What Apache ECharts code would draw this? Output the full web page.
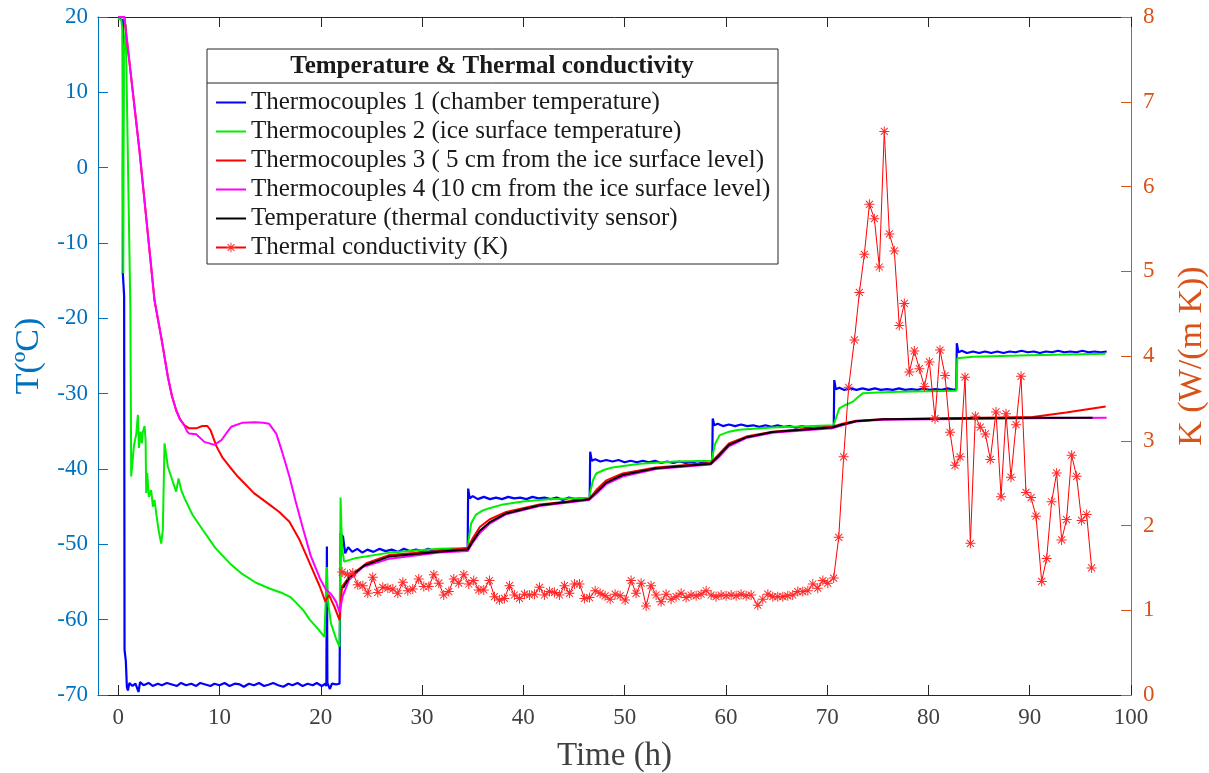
<!DOCTYPE html>
<html>
<head>
<meta charset="utf-8">
<script src="https://cdn.jsdelivr.net/npm/echarts@6.0.0/dist/echarts.min.js"></script>
<style>
  html, body { margin: 0; padding: 0; background: #fff; }
  #chart { width: 1209px; height: 773px; }
</style>
</head>
<body>
<div id="chart"></div>
<script>
// x ticks (h)
var xTicks = [0, 10, 20, 30, 40, 50, 60, 70, 80, 90, 100];

// Thermocouples 1 (chamber) [h, degC]
var tc1 = [
  [0,19.8],[0.45,19.6],[0.5,12],[0.45,-0.3],[0.45,-14],[0.58,-17],[0.6,-40],[0.62,-64],[0.75,-65.5],[0.85,-68.9],[0.95,-69.4],
  [1.1,-68.4],[1.4,-68.8],[1.7,-68.5],[2.0,-69.6],[2.15,-68.3],[2.5,-68.7],[3.0,-68.4],[3.4,-68.8],[3.9,-68.5],[4.3,-68.7],
  [4.8,-68.4],[5.3,-68.6],[5.8,-68.8],[6.2,-68.4],[6.7,-68.7],[7.2,-68.5],[7.7,-68.8],[8.1,-68.4],[8.6,-68.6],[9.1,-68.8],
  [9.5,-68.5],[10.0,-68.7],[10.5,-68.4],[11.0,-68.8],[11.5,-68.5],[12.0,-68.6],[12.4,-68.9],[12.9,-68.5],[13.4,-68.7],
  [13.9,-68.4],[14.4,-68.8],[14.9,-68.6],[15.3,-68.4],[15.8,-68.7],[16.3,-68.9],[16.8,-68.5],[17.2,-68.7],[17.7,-68.4],
  [18.2,-68.8],[18.7,-68.5],[19.2,-68.7],[19.6,-68.4],[20.1,-68.8],[20.45,-68.5],
  [20.55,-68.8],[20.6,-50.3],[20.65,-68.4],[20.9,-69.2],[21.1,-68.5],[21.5,-68.6],[21.85,-68.5],
  [21.95,-48.5],[22.2,-49.0],[22.4,-51.2],[22.7,-50.4],[23.1,-51.0],[23.6,-50.6],[24.1,-51.1],[24.6,-50.7],[25.2,-51.0],
  [25.8,-50.6],[26.4,-50.9],[27.0,-50.7],[27.6,-51.0],[28.2,-50.6],[28.8,-50.9],[29.4,-50.7],[30.0,-50.9],[30.6,-50.6],
  [31.2,-50.9],[31.8,-50.7],[32.4,-50.9],[33.0,-50.6],[33.6,-50.9],[34.2,-50.7],[34.5,-50.8],
  [34.55,-42.6],[34.7,-43.9],[35.0,-43.6],[35.5,-44.0],[36.1,-43.7],[36.7,-44.0],[37.3,-43.8],[37.9,-44.0],[38.5,-43.7],
  [39.1,-43.9],[39.7,-43.8],[40.3,-44.0],[40.9,-43.7],[41.5,-43.9],[42.1,-43.8],[42.7,-44.0],[43.3,-43.8],[43.9,-44.1],
  [44.5,-43.8],[45.1,-44.0],[45.7,-43.9],[46.3,-44.1],[46.55,-44.0],
  [46.6,-37.7],[46.75,-38.9],[47.1,-38.7],[47.6,-39.0],[48.2,-38.8],[48.8,-39.0],[49.4,-38.8],[50.0,-39.1],[50.6,-38.9],
  [51.2,-39.1],[51.8,-38.9],[52.4,-39.1],[53.0,-38.9],[53.6,-39.2],[54.2,-39.0],[54.8,-39.2],[55.4,-39.0],[56.0,-39.2],
  [56.6,-39.1],[57.2,-39.3],[57.8,-39.1],[58.4,-39.3],[58.65,-39.2],
  [58.7,-33.3],[58.85,-34.2],[59.2,-34.0],[59.7,-34.3],[60.3,-34.1],[60.9,-34.3],[61.5,-34.1],[62.1,-34.3],[62.7,-34.2],
  [63.3,-34.4],[63.9,-34.2],[64.5,-34.4],[65.1,-34.2],[65.7,-34.4],[66.3,-34.3],[66.9,-34.5],[67.5,-34.3],[68.1,-34.5],
  [68.7,-34.3],[69.3,-34.5],[69.9,-34.4],[70.4,-34.6],[70.65,-34.5],
  [70.7,-28.2],[70.85,-29.4],[71.2,-29.2],[71.7,-29.5],[72.3,-29.3],[72.9,-29.5],[73.5,-29.3],[74.1,-29.5],[74.7,-29.3],
  [75.3,-29.5],[75.9,-29.4],[76.5,-29.5],[77.1,-29.3],[77.7,-29.5],[78.3,-29.4],[78.9,-29.5],[79.5,-29.3],[80.1,-29.5],
  [80.7,-29.4],[81.3,-29.5],[81.9,-29.3],[82.5,-29.5],[82.75,-29.4],
  [82.8,-23.3],[82.95,-24.5],[83.3,-24.3],[83.8,-24.6],[84.4,-24.4],[85.0,-24.6],[85.6,-24.4],[86.2,-24.6],[86.8,-24.4],
  [87.4,-24.6],[88.0,-24.4],[88.6,-24.5],[89.2,-24.3],[89.8,-24.5],[90.4,-24.4],[91.0,-24.6],[91.6,-24.4],[92.2,-24.5],
  [92.8,-24.3],[93.4,-24.5],[94.0,-24.4],[94.6,-24.5],[95.2,-24.3],[95.8,-24.5],[96.4,-24.4],[97.0,-24.5],[97.6,-24.4]
];

// Thermocouples 2 (ice surface)
var tc2 = [
  [0,19.8],[0.3,19.6],[0.4,18.5],[0.45,-0.3],[0.5,-14],[0.55,15],[0.75,19.0],[0.79,14.3],[1.2,-18.9],[1.28,-41.0],
  [1.54,-37.0],[1.78,-35.3],[1.94,-32.8],[2.04,-37.2],[2.2,-35.05],[2.33,-36.6],[2.43,-35.05],[2.6,-34.3],[2.7,-36.2],
  [2.76,-43.2],[2.86,-40.5],[3.02,-43.7],[3.25,-42.8],[3.42,-45.0],[3.58,-44.1],[3.75,-45.9],[3.98,-48.1],[4.24,-49.9],
  [4.4,-48.1],[4.57,-36.6],[4.9,-39.7],[5.39,-41.7],[5.72,-43.0],[5.95,-41.25],[6.22,-42.8],[6.55,-43.9],[7.3,-46.0],
  [8.35,-48.1],[9.6,-50.5],[11.0,-52.5],[12.2,-53.9],[13.6,-55.1],[15.0,-55.9],[16.25,-56.5],[17.0,-57.0],[17.6,-57.8],
  [18.3,-58.8],[18.9,-60.0],[19.7,-61.2],[20.36,-62.3],[20.55,-62.5],[20.6,-53.0],[20.7,-57.5],[21.0,-60.5],[21.5,-62.5],
  [21.85,-63.6],[21.95,-43.8],[22.1,-50.5],[22.3,-52.3],[23.5,-51.8],[26.8,-51.1],[31.7,-50.6],[34.5,-50.5],
  [34.6,-49.4],[34.85,-47.2],[35.3,-46.1],[36.0,-45.5],[36.65,-45.2],[38.0,-44.7],[39.95,-44.3],[42.5,-44.0],[46.5,-43.8],
  [46.65,-42.8],[46.9,-41.4],[47.2,-40.6],[48.0,-40.1],[48.8,-39.8],[51.5,-39.3],[55.0,-39.0],[58.6,-38.9],
  [58.75,-37.8],[58.95,-36.6],[59.4,-35.5],[60.2,-35.1],[61.3,-34.8],[64.6,-34.5],[70.6,-34.2],
  [70.75,-33.7],[71.2,-31.95],[71.8,-31.5],[72.5,-31.1],[73.0,-30.5],[73.5,-29.96],[75.0,-29.85],[77.1,-29.74],[82.75,-29.6],
  [82.85,-25.3],[84.4,-25.1],[90.0,-24.9],[97.5,-24.7]
];

// Thermocouples 3 (5 cm)
var tc3 = [
  [0,20],[0.6,20],[2.1,2.2],[3.58,-17.6],[4.24,-22.5],[4.9,-27.75],[5.3,-30.3],[5.72,-32.2],[6.1,-33.4],[6.55,-34.2],
  [7.0,-34.6],[7.7,-34.6],[8.3,-34.3],[8.8,-34.3],[9.1,-34.8],[9.7,-37.0],[10.3,-38.5],[11.0,-39.7],[11.8,-41.0],
  [12.6,-42.1],[13.4,-43.2],[14.3,-44.1],[15.1,-44.9],[15.9,-45.7],[16.9,-47.0],[17.9,-49.4],[18.9,-52.5],[19.9,-55.6],
  [20.45,-57.6],[20.8,-56.7],[21.35,-58.3],[21.85,-60.05],[22.1,-55.6],[22.8,-54.3],[24.5,-52.5],[26.8,-51.4],[31.7,-50.9],
  [34.5,-50.5],[35.0,-49.2],[35.7,-47.7],[36.65,-46.7],[38.3,-45.7],[41.6,-44.7],[46.5,-44.0],[47.2,-42.8],[48.2,-41.5],
  [49.8,-40.6],[53.1,-39.8],[58.5,-39.2],[59.4,-37.9],[60.3,-36.6],[62.0,-35.7],[64.6,-35.05],[70.5,-34.4],[71.5,-34.0],
  [72.85,-33.6],[75.5,-33.4],[85.0,-33.2],[90.3,-33.1],[93.6,-32.5],[97.5,-31.7]
];

// Thermocouples 4 (10 cm)
var tc4 = [
  [0,20],[0.6,20],[2.1,2.2],[3.58,-17.6],[4.24,-22.5],[4.9,-27.75],[5.3,-30.3],[5.72,-32.2],[6.1,-33.4],[6.55,-34.3],
  [6.8,-35.0],[7.0,-35.3],[7.7,-35.4],[8.5,-36.4],[9.5,-36.8],[10.2,-36.15],[10.7,-35.2],[11.15,-34.4],[12.3,-33.85],
  [13.5,-33.8],[14.3,-33.85],[14.9,-34.0],[15.6,-35.3],[16.2,-37.8],[16.9,-41.0],[17.5,-44.2],[18.2,-47.7],[19.0,-51.5],
  [19.9,-54.5],[20.5,-56.0],[21.0,-56.6],[21.5,-57.6],[21.85,-59.0],[22.15,-56.95],[22.8,-54.7],[24.15,-53.0],[26.8,-51.9],
  [31.7,-51.1],[34.5,-50.9],[35.0,-49.8],[35.7,-48.5],[36.65,-47.3],[38.3,-46.0],[41.6,-44.9],[46.5,-44.1],[47.2,-43.3],
  [48.2,-42.0],[49.8,-41.0],[53.1,-40.0],[58.5,-39.4],[59.4,-38.3],[60.3,-37.0],[62.0,-35.9],[64.6,-35.2],[70.5,-34.6],
  [71.5,-34.2],[72.85,-33.7],[75.5,-33.45],[90.3,-33.25],[97.6,-33.2]
];

// Temperature (thermal conductivity sensor)
var tSensor = [
  [22.2,-55.8],[22.8,-54.4],[24.3,-52.8],[26.8,-51.6],[31.7,-51.0],[34.5,-50.7],[35.0,-49.6],[35.7,-48.2],[36.65,-47.1],
  [38.3,-45.9],[41.6,-44.8],[46.5,-44.0],[47.2,-43.1],[48.2,-41.8],[49.8,-40.8],[53.1,-39.9],[58.5,-39.3],[59.4,-38.1],
  [60.3,-36.8],[62.0,-35.8],[64.6,-35.1],[70.5,-34.5],[71.5,-34.1],[72.85,-33.65],[75.5,-33.4],[90.3,-33.2],[96.2,-33.2]
];

// Thermal conductivity K, W/(m K)
var kHours = [
  22.11,22.64,23.16,23.65,24.15,24.64,25.13,25.63,26.12,26.62,27.11,27.60,28.10,28.59,29.08,29.67,30.17,30.66,31.16,31.65,
  32.14,32.64,33.13,33.62,34.12,34.61,35.10,35.60,36.09,36.65,37.15,37.64,38.13,38.63,39.12,39.62,40.11,40.60,41.10,41.59,
  42.08,42.58,43.07,43.56,44.06,44.55,45.05,45.54,46.03,46.53,47.09,47.58,48.07,48.57,49.06,49.56,50.05,50.64,51.13,51.63,
  52.12,52.61,53.11,53.60,54.10,54.59,55.08,55.58,56.07,56.56,57.06,57.55,58.05,58.54,59.03,59.53,60.02,60.52,61.01,61.50,
  62.00,62.49,63.15,63.64,64.14,64.63,65.12,65.62,66.11,66.60,67.10,67.59,68.09,68.58,69.07,69.57,70.06,70.64,71.14,71.63,
  72.12,72.69,73.18,73.67,74.17,74.66,75.15,75.64,76.14,76.63,77.12,77.62,78.11,78.61,79.10,79.60,80.09,80.65,81.14,81.64,
  82.13,82.62,83.12,83.61,84.14,84.63,85.12,85.62,86.11,86.67,87.17,87.66,88.15,88.65,89.14,89.63,90.13,90.62,91.18,91.67,
  92.16,92.66,93.15,93.64,94.14,94.63,95.12,95.62,96.11
];
var kValues = [
  1.45,1.42,1.44,1.30,1.29,1.20,1.39,1.21,1.27,1.26,1.25,1.20,1.33,1.23,1.25,1.37,1.28,1.28,1.42,1.32,
  1.18,1.22,1.37,1.32,1.42,1.31,1.35,1.24,1.24,1.35,1.16,1.12,1.14,1.29,1.18,1.14,1.19,1.18,1.19,1.27,
  1.18,1.22,1.21,1.18,1.29,1.20,1.31,1.31,1.14,1.15,1.23,1.20,1.17,1.13,1.19,1.17,1.12,1.35,1.20,1.32,
  1.05,1.29,1.18,1.10,1.19,1.13,1.16,1.20,1.15,1.18,1.17,1.19,1.23,1.18,1.16,1.18,1.17,1.18,1.17,1.19,
  1.17,1.18,1.06,1.13,1.19,1.16,1.16,1.16,1.17,1.18,1.22,1.22,1.23,1.31,1.26,1.35,1.32,1.38,1.86,2.81,
  3.63,4.19,4.75,5.20,5.79,5.62,5.05,6.65,5.44,5.24,4.36,4.62,3.81,4.06,3.85,3.64,3.93,3.26,4.07,3.77,
  3.10,2.71,2.81,3.75,1.79,3.29,3.16,3.08,2.78,3.34,2.34,3.32,2.57,3.19,3.76,2.39,2.33,2.11,1.34,1.61,
  2.28,2.62,1.83,2.07,2.83,2.58,2.06,2.13,1.50
];

var seriesNames = [
  'Thermocouples 1 (chamber temperature)',
  'Thermocouples 2 (ice surface temperature)',
  'Thermocouples 3 ( 5 cm from the ice surface level)',
  'Thermocouples 4 (10 cm from the ice surface level)',
  'Temperature (thermal conductivity sensor)',
  'Thermal conductivity (K)'
];

var FONT = '"Liberation Serif", "Times New Roman", serif';
var LEFT_C = '#0072BD', RIGHT_C = '#D95319', AX_C = '#262626';

// asterisk marker, like matlab '*'
var asterisk = 'path://M-0.5,-5L0.5,-5L0.5,5L-0.5,5Z M-5,-0.5L5,-0.5L5,0.5L-5,0.5Z ' +
  'M-3.15,-3.85L3.85,3.15L3.15,3.85L-3.85,-3.15Z M-3.85,3.15L3.15,-3.85L3.85,-3.15L-3.15,3.85Z';

var kData = kHours.map(function (h, i) { return [h, kValues[i]]; });

// legend entries: temperature lines show only the line, K keeps its marker
var legendData = seriesNames.map(function (n, i) {
  return i < 5 ? { name: n, itemStyle: { opacity: 0 } } : { name: n };
});

var chart = echarts.init(document.getElementById('chart'));

function tempLine(name, data, color, w) {
  return {
    name: name, type: 'line', data: data, yAxisIndex: 0,
    symbol: 'none', showSymbol: false, sampling: false,
    lineStyle: { color: color, width: w },
    itemStyle: { color: color }
  };
}

chart.setOption({
  animation: false,
  backgroundColor: '#fff',
  grid: { left: 98, right: 78, top: 17, bottom: 78, containLabel: false, outerBoundsMode: 'none' },
  graphic: [
    { type: 'rect', z: 50, shape: { x: 207, y: 49, width: 571, height: 215 },
      style: { fill: '#fff', stroke: AX_C, lineWidth: 1 } },
    { type: 'line', z: 51, shape: { x1: 207, y1: 83, x2: 778, y2: 83 },
      style: { stroke: AX_C, lineWidth: 1 } },
    { type: 'text', z: 52, x: 492, y: 67,
      style: { text: 'Temperature & Thermal conductivity', font: 'bold 25px ' + FONT,
        fill: '#1a1a1a', align: 'center', verticalAlign: 'middle' } }
  ],
  legend: {
    z: 60,
    orient: 'vertical', left: 210, top: 85,
    itemWidth: 30, itemHeight: 12, itemGap: 4,
    data: legendData,
    textStyle: { fontFamily: FONT, fontSize: 25, color: '#1a1a1a', lineHeight: 25, padding: 0 }
  },
  xAxis: [
    {
      type: 'value', min: -2, max: 100, position: 'bottom',
      name: 'Time (h)', nameLocation: 'middle', nameGap: 45,
      nameTextStyle: { fontFamily: FONT, fontSize: 33, color: '#404040' },
      axisLine: { show: true, onZero: false, lineStyle: { color: AX_C, width: 1 } },
      axisTick: { show: true, inside: true, length: 10, customValues: xTicks, lineStyle: { color: AX_C } },
      axisLabel: { customValues: xTicks, fontFamily: FONT, fontSize: 23, color: '#404040', margin: 11 },
      splitLine: { show: false }
    },
    {
      type: 'value', min: -2, max: 100, position: 'top',
      axisLine: { show: true, onZero: false, lineStyle: { color: AX_C, width: 1 } },
      axisTick: { show: true, inside: true, length: 10, customValues: xTicks, lineStyle: { color: AX_C } },
      axisLabel: { show: false },
      splitLine: { show: false }
    }
  ],
  yAxis: [
    {
      type: 'value', min: -70, max: 20, interval: 10, position: 'left',
      name: 'T(ºC)', nameLocation: 'middle', nameGap: 52, nameRotate: 90,
      nameTextStyle: { fontFamily: FONT, fontSize: 34, color: LEFT_C },
      axisLine: { show: true, onZero: false, lineStyle: { color: LEFT_C, width: 1 } },
      axisTick: { show: true, inside: true, length: 10, lineStyle: { color: LEFT_C } },
      axisLabel: { fontFamily: FONT, fontSize: 23, color: LEFT_C, margin: 10 },
      splitLine: { show: false }
    },
    {
      type: 'value', min: 0, max: 8, interval: 1, position: 'right',
      name: 'K (W/(m K))', nameLocation: 'middle', nameGap: 44, nameRotate: 90,
      nameTextStyle: { fontFamily: FONT, fontSize: 34, color: RIGHT_C },
      axisLine: { show: true, onZero: false, lineStyle: { color: RIGHT_C, width: 1 } },
      axisTick: { show: true, inside: true, length: 10, lineStyle: { color: RIGHT_C } },
      axisLabel: { fontFamily: FONT, fontSize: 23, color: RIGHT_C, margin: 12 },
      splitLine: { show: false }
    }
  ],
  series: [
    tempLine(seriesNames[0], tc1, '#0000FF', 2.2),
    tempLine(seriesNames[1], tc2, '#00EE00', 2),
    tempLine(seriesNames[2], tc3, '#FF0000', 2),
    tempLine(seriesNames[3], tc4, '#FF00FF', 2),
    tempLine(seriesNames[4], tSensor, '#000000', 2),
    {
      name: seriesNames[5], type: 'line', data: kData, yAxisIndex: 1,
      symbol: asterisk, symbolSize: 10, showSymbol: true,
      lineStyle: { color: '#FF0000', width: 1 },
      itemStyle: { color: '#FF2A2A' }
    }
  ]
});
</script>
</body>
</html>
